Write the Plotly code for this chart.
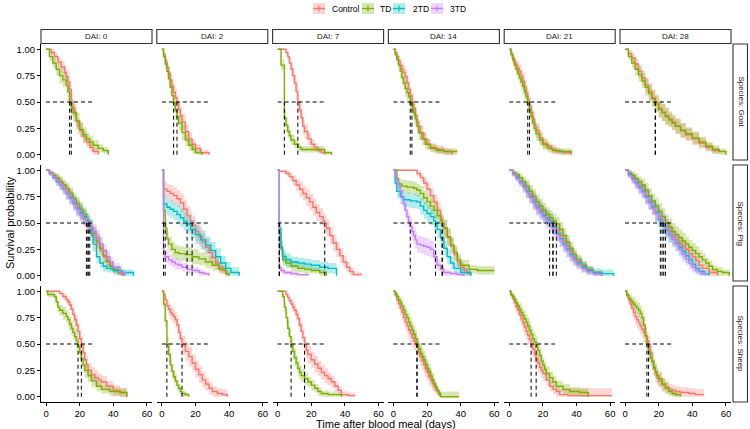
import sys
import plotly.graph_objects as go

# ---------------- categories / ticks ----------------
dai_levels = [0, 2, 7, 14, 21, 28]
species_levels = ["Goat", "Pig", "Sheep"]
group_levels = ["Control", "TD", "2TD", "3TD"]
group_colors = ["#F8766D", "#7CAE00", "#00BFC4", "#C77CFF"]
y_ticks = [0, 0.25, 0.5, 0.75, 1.0]
y_ticklabels = ["0.00", "0.25", "0.50", "0.75", "1.00"]
x_ticks = [0, 20, 40, 60]
x_ticklabels = ["0", "20", "40", "60"]

# ---------------- Kaplan-Meier step data (one list per DAI: 0,2,7,14,21,28) ----------------
# t = event times (days), s = survival after the step, hw = CI half width
goat_control_t = [
    [0, 3, 5, 7, 9, 11, 12, 13, 14, 15, 16, 17, 18, 19, 20, 22, 24, 26, 28, 31],
    [0, 1, 2, 3, 4, 5, 6, 7, 8, 9, 10, 11, 12, 14, 16, 18, 20, 23, 28],
    [0, 5, 6, 7, 8, 9, 10, 11, 12, 13, 14, 15, 16, 18, 20, 22, 24, 26, 28],
    [0, 1, 2, 3, 4, 5, 6, 7, 8, 9, 10, 11, 12, 13, 14, 15, 16, 18, 20, 22, 25, 30, 35],
    [0, 1, 2, 3, 4, 5, 6, 7, 8, 9, 10, 11, 12, 13, 14, 15, 16, 18, 20, 22, 25, 28, 32, 37],
    [0, 2, 4, 6, 8, 10, 12, 14, 16, 18, 20, 22, 24, 26, 28, 30, 33, 36, 40, 44, 48, 52, 56],
]
goat_control_s = [
    [1, .97, .93, .88, .83, .78, .74, .69, .62, .50, .44, .38, .32, .27, .23, .17, .12, .07, .03, 0],
    [1, .95, .89, .83, .77, .71, .65, .59, .54, .49, .43, .37, .31, .22, .15, .10, .06, .02, 0],
    [1, .97, .93, .87, .81, .75, .68, .60, .50, .42, .35, .27, .22, .15, .10, .07, .04, .02, 0],
    [1, .97, .93, .89, .85, .81, .78, .74, .68, .62, .56, .50, .44, .37, .31, .26, .21, .15, .10, .07, .05, .03, 0],
    [1, .96, .92, .88, .85, .82, .79, .75, .70, .64, .58, .52, .46, .40, .34, .28, .23, .16, .11, .08, .05, .03, .02, 0],
    [1, .96, .92, .86, .79, .73, .66, .60, .54, .49, .44, .40, .37, .34, .31, .27, .23, .19, .15, .11, .07, .04, .03],
]
goat_control_hw = [
    [0, .03, .04, .05, .06, .07, .07, .08, .08, .08, .08, .08, .08, .07, .07, .06, .05, .04, .03, 0],
    [0, .03, .04, .05, .06, .07, .07, .08, .08, .08, .08, .08, .08, .07, .06, .05, .04, .03, 0],
    [0, .02, .04, .05, .06, .07, .08, .08, .08, .08, .08, .08, .07, .06, .05, .04, .03, .02, 0],
    [0, .03, .04, .05, .06, .06, .07, .07, .08, .08, .08, .08, .08, .08, .08, .07, .07, .06, .05, .04, .04, .03, 0],
    [0, .03, .04, .05, .06, .06, .07, .07, .08, .08, .08, .08, .08, .08, .08, .07, .07, .06, .05, .04, .04, .03, .02, 0],
    [0, .03, .04, .05, .06, .07, .07, .08, .08, .08, .08, .08, .08, .07, .07, .07, .07, .06, .06, .05, .04, .03, .03],
]

goat_td_t = [
    [0, 2, 4, 6, 8, 10, 12, 13, 14, 15, 16, 18, 20, 22, 24, 26, 28, 31, 34, 37],
    [0, 1, 2, 3, 4, 5, 6, 7, 8, 9, 10, 12, 14, 16, 18, 20, 24],
    [0, 2, 4, 5, 6, 7, 8, 10, 12, 14, 20, 28, 32],
    [0, 1, 2, 3, 4, 5, 6, 7, 8, 9, 10, 11, 12, 13, 14, 15, 17, 19, 22, 26, 30, 38],
    [0, 1, 2, 3, 4, 5, 6, 7, 8, 9, 10, 11, 12, 13, 14, 15, 16, 18, 20, 23, 26, 30, 37],
    [0, 2, 4, 6, 8, 10, 12, 14, 16, 18, 20, 22, 24, 26, 28, 30, 33, 36, 40, 44, 48, 52, 56, 60],
]
goat_td_s = [
    [1, .93, .87, .81, .75, .71, .66, .60, .50, .45, .40, .32, .24, .19, .15, .12, .09, .06, .04, 0],
    [1, .93, .86, .79, .72, .64, .56, .49, .42, .36, .30, .21, .14, .09, .05, .02, 0],
    [1, .85, .35, .28, .22, .18, .14, .10, .07, .05, .05, .02, 0],
    [1, .95, .90, .85, .79, .73, .68, .63, .59, .55, .49, .45, .40, .34, .27, .21, .15, .10, .06, .04, .03, .03],
    [1, .95, .90, .85, .81, .77, .73, .69, .65, .60, .55, .48, .42, .36, .30, .25, .20, .14, .10, .06, .04, .03, .02],
    [1, .93, .87, .81, .76, .70, .64, .58, .53, .48, .43, .40, .36, .33, .30, .27, .23, .20, .16, .12, .08, .05, .03, 0],
]
goat_td_hw = [
    [0, .04, .05, .06, .07, .07, .08, .08, .08, .08, .08, .08, .07, .07, .06, .06, .05, .04, .03, 0],
    [0, .03, .05, .06, .07, .07, .08, .08, .08, .08, .07, .07, .06, .05, .04, .03, 0],
    [0, .05, .07, .07, .06, .06, .05, .04, .04, .03, .03, .02, 0],
    [0, .03, .04, .05, .06, .07, .07, .08, .08, .08, .08, .08, .08, .08, .07, .07, .06, .05, .04, .03, .03, .03],
    [0, .03, .04, .05, .06, .06, .07, .07, .08, .08, .08, .08, .08, .08, .07, .07, .07, .06, .05, .04, .03, .03, .02],
    [0, .04, .05, .06, .07, .07, .08, .08, .08, .08, .08, .08, .08, .07, .07, .07, .07, .06, .06, .05, .04, .04, .03, 0],
]

pig_control_t = [
    [0, 2, 4, 6, 8, 10, 12, 14, 16, 18, 20, 22, 24, 25, 26, 28, 30, 32, 34, 36, 38, 40, 43, 46],
    [0, 1, 3, 5, 7, 9, 11, 13, 15, 17, 18, 20, 22, 24, 26, 28, 30, 32, 34, 36, 38, 40],
    [0, 1, 5, 7, 9, 11, 13, 15, 17, 19, 21, 23, 25, 27, 28, 29, 31, 33, 35, 37, 39, 41, 43, 45, 50],
    [0, 14, 16, 18, 20, 22, 24, 26, 28, 29, 30, 32, 34, 36, 38, 40, 42, 44, 46],
    [0, 2, 4, 6, 8, 10, 12, 14, 16, 18, 20, 22, 24, 26, 28, 30, 32, 34, 36, 38, 40, 43, 46, 50, 55],
    [0, 2, 4, 6, 8, 10, 12, 14, 16, 18, 20, 22, 24, 26, 28, 30, 32, 34, 36, 38, 40, 42, 44, 46, 50, 55],
]
pig_control_s = [
    [1, .98, .95, .92, .88, .84, .80, .75, .70, .65, .60, .55, .51, .48, .44, .38, .31, .24, .18, .13, .09, .05, .02, 0],
    [1, .82, .80, .78, .76, .73, .69, .63, .57, .52, .48, .42, .37, .32, .27, .22, .17, .12, .08, .05, .02, 0],
    [1, .99, .97, .94, .90, .86, .82, .78, .74, .70, .65, .60, .56, .52, .50, .45, .38, .31, .25, .19, .13, .08, .04, .01, .01],
    [1, .97, .93, .88, .82, .76, .70, .62, .54, .49, .45, .36, .28, .20, .13, .08, .05, .02, 0],
    [1, .97, .94, .90, .86, .82, .77, .72, .67, .63, .59, .55, .52, .48, .43, .38, .33, .28, .23, .18, .13, .09, .05, .02, 0],
    [1, .97, .93, .89, .85, .81, .76, .70, .65, .60, .55, .50, .46, .42, .38, .34, .31, .28, .25, .21, .18, .14, .10, .07, .03, 0],
]
pig_control_hw = [
    [0, .02, .03, .04, .05, .05, .06, .06, .06, .07, .07, .07, .07, .07, .07, .07, .07, .06, .06, .05, .04, .03, .02, 0],
    [0, .07, .07, .08, .08, .08, .09, .09, .09, .09, .09, .09, .09, .08, .08, .08, .07, .06, .05, .04, .03, 0],
    [0, .01, .03, .04, .05, .06, .07, .07, .08, .08, .08, .08, .08, .08, .08, .08, .08, .08, .07, .07, .06, .05, .04, .03, .03],
    [0, .03, .04, .05, .06, .07, .07, .08, .08, .08, .08, .08, .08, .07, .06, .05, .04, .03, 0],
    [0, .02, .03, .04, .05, .06, .06, .07, .07, .07, .07, .07, .07, .07, .07, .07, .07, .07, .06, .06, .05, .04, .03, .02, 0],
    [0, .03, .04, .05, .06, .06, .07, .07, .07, .08, .08, .08, .08, .08, .08, .07, .07, .07, .07, .06, .06, .05, .04, .04, .03, 0],
]

pig_td_t = [
    [0, 2, 4, 6, 8, 10, 12, 14, 16, 18, 20, 22, 24, 25, 26, 28, 30, 32, 34, 36, 38, 40, 43, 46],
    [0, 1, 2, 3, 4, 6, 8, 10, 14, 18, 22, 26, 30, 34, 38, 40],
    [0, 1, 2, 3, 5, 8, 12, 16, 20, 25, 29],
    [0, 2, 3, 5, 8, 12, 14, 16, 18, 20, 22, 24, 26, 28, 29, 30, 32, 34, 36, 38, 40, 45, 50, 55, 60],
    [0, 2, 4, 6, 8, 10, 12, 14, 16, 18, 20, 22, 24, 26, 28, 30, 32, 34, 36, 38, 40, 43, 46, 50, 55],
    [0, 2, 4, 6, 8, 10, 12, 14, 16, 18, 20, 22, 24, 26, 28, 30, 32, 34, 36, 38, 40, 42, 44, 46, 48, 50, 52, 55, 58, 62],
]
pig_td_s = [
    [1, .97, .95, .93, .89, .86, .82, .78, .73, .68, .63, .58, .53, .50, .46, .40, .33, .26, .19, .14, .09, .06, .03, 0],
    [1, .62, .45, .35, .30, .25, .22, .21, .20, .18, .16, .13, .10, .06, .02, 0],
    [1, .40, .25, .15, .12, .09, .07, .06, .05, .03, 0],
    [1, .92, .87, .85, .84, .83, .81, .78, .74, .70, .66, .62, .57, .52, .50, .45, .37, .29, .22, .15, .10, .06, .05, .05, .05],
    [1, .98, .96, .93, .89, .85, .80, .75, .70, .66, .62, .58, .55, .52, .49, .44, .38, .32, .26, .20, .15, .10, .06, .03, 0],
    [1, .97, .95, .92, .89, .86, .81, .76, .71, .66, .61, .56, .50, .46, .42, .39, .36, .33, .30, .27, .24, .21, .18, .15, .12, .09, .06, .04, .03, 0],
]
pig_td_hw = [
    [0, .02, .03, .04, .05, .05, .06, .06, .06, .07, .07, .07, .07, .07, .07, .07, .07, .06, .06, .05, .04, .03, .02, 0],
    [0, .08, .08, .08, .07, .07, .07, .07, .07, .07, .06, .06, .05, .04, .03, 0],
    [0, .08, .07, .06, .05, .05, .04, .04, .03, .03, 0],
    [0, .04, .05, .06, .06, .06, .06, .07, .07, .07, .08, .08, .08, .08, .08, .08, .08, .07, .07, .06, .05, .04, .04, .04, .04],
    [0, .02, .03, .04, .05, .06, .06, .07, .07, .07, .07, .07, .07, .07, .07, .07, .07, .07, .06, .06, .05, .04, .03, .02, 0],
    [0, .03, .04, .05, .05, .06, .07, .07, .07, .08, .08, .08, .08, .08, .08, .08, .08, .08, .07, .07, .07, .07, .06, .06, .05, .05, .04, .04, .03, 0],
]

pig_2td_t = [
    [0, 2, 4, 6, 8, 10, 12, 14, 16, 18, 20, 22, 24, 26, 27, 28, 30, 32, 34, 36, 40, 45, 52],
    [0, 1, 3, 5, 7, 9, 11, 13, 15, 17, 20, 23, 26, 29, 32, 35, 38, 41, 46],
    [0, 1, 2, 3, 5, 8, 12, 16, 20, 25, 30, 35],
    [0, 1, 2, 4, 6, 10, 14, 16, 18, 20, 22, 24, 25, 26, 28, 30, 32, 34, 36, 40, 46],
    [0, 2, 4, 6, 8, 10, 12, 14, 16, 18, 20, 22, 24, 26, 28, 30, 32, 34, 36, 38, 40, 43, 46, 50, 55, 62],
    [0, 2, 4, 6, 8, 10, 12, 14, 16, 18, 20, 21, 22, 24, 26, 28, 30, 32, 34, 36, 38, 40, 42, 44, 47, 50],
]
pig_2td_s = [
    [1, .97, .93, .89, .86, .82, .78, .74, .69, .64, .60, .56, .52, .47, .38, .30, .18, .12, .09, .07, .05, .03, 0],
    [1, .68, .65, .63, .61, .58, .55, .52, .49, .44, .39, .34, .29, .24, .18, .12, .07, .03, 0],
    [1, .45, .27, .18, .15, .13, .12, .11, .10, .08, .07, 0],
    [1, .88, .80, .75, .72, .71, .70, .66, .62, .59, .56, .52, .49, .44, .36, .26, .18, .12, .07, .03, 0],
    [1, .96, .93, .89, .85, .80, .75, .70, .65, .61, .57, .54, .51, .46, .40, .35, .30, .25, .20, .16, .12, .08, .05, .03, .02, 0],
    [1, .96, .92, .88, .84, .80, .75, .70, .65, .60, .54, .50, .47, .43, .39, .35, .31, .27, .23, .19, .15, .11, .07, .04, .02, 0],
]
pig_2td_hw = [
    [0, .02, .03, .04, .05, .05, .06, .06, .06, .07, .07, .07, .07, .07, .07, .07, .06, .05, .05, .04, .04, .03, 0],
    [0, .08, .08, .08, .08, .09, .09, .09, .09, .09, .09, .09, .08, .08, .08, .07, .06, .05, 0],
    [0, .08, .07, .06, .06, .05, .05, .05, .05, .05, .05, 0],
    [0, .05, .06, .07, .07, .07, .07, .08, .08, .08, .08, .08, .08, .08, .08, .07, .07, .06, .05, .04, 0],
    [0, .02, .03, .04, .05, .06, .06, .07, .07, .07, .07, .07, .07, .07, .07, .07, .07, .07, .06, .06, .05, .05, .04, .04, .04, 0],
    [0, .03, .04, .05, .06, .06, .07, .07, .07, .08, .08, .08, .08, .08, .08, .08, .07, .07, .07, .07, .06, .06, .05, .04, .03, 0],
]

pig_3td_t = [
    [0, 2, 4, 6, 8, 10, 12, 14, 16, 18, 20, 22, 24, 26, 28, 30, 32, 34, 36, 38, 40, 44, 47],
    [0, 1, 2, 4, 6, 8, 10, 12, 15, 18, 22, 25, 28],
    [0, 1, 2, 4, 8, 12, 18],
    [0, 1, 2, 3, 4, 5, 6, 7, 8, 9, 10, 11, 12, 13, 14, 16, 18, 20, 22, 24, 26, 28, 30, 34, 38, 42],
    [0, 2, 4, 6, 8, 10, 12, 14, 16, 18, 20, 22, 24, 26, 28, 30, 32, 34, 36, 38, 40, 43, 46, 50, 55],
    [0, 2, 4, 6, 8, 10, 12, 14, 16, 18, 20, 22, 23, 24, 26, 28, 30, 32, 34, 36, 38, 40, 42, 45, 48],
]
pig_3td_s = [
    [1, .97, .94, .90, .86, .82, .78, .73, .68, .63, .58, .54, .50, .46, .42, .36, .30, .24, .18, .13, .08, .03, 0],
    [1, .22, .18, .15, .13, .11, .10, .08, .06, .05, .03, .02, 0],
    [1, .08, .05, .03, .02, .01, 0],
    [1, .95, .90, .85, .80, .74, .68, .62, .56, .51, .47, .42, .38, .34, .30, .29, .28, .27, .25, .18, .10, .06, .03, .02, .01, 0],
    [1, .96, .92, .88, .84, .79, .74, .69, .64, .60, .56, .52, .48, .44, .39, .34, .29, .24, .19, .15, .11, .07, .04, .02, 0],
    [1, .95, .91, .87, .83, .79, .74, .69, .64, .59, .55, .52, .49, .45, .40, .35, .30, .25, .20, .16, .12, .08, .05, .02, 0],
]
pig_3td_hw = [
    [0, .02, .03, .04, .05, .05, .06, .06, .07, .07, .07, .07, .07, .07, .07, .07, .07, .06, .06, .05, .04, .03, 0],
    [0, .06, .06, .05, .05, .05, .04, .04, .04, .03, .03, .02, 0],
    [0, .04, .03, .02, .02, .01, 0],
    [0, .03, .04, .05, .06, .07, .07, .08, .08, .08, .08, .08, .08, .08, .08, .08, .08, .08, .08, .07, .05, .04, .03, .02, .02, 0],
    [0, .02, .03, .04, .05, .06, .06, .07, .07, .07, .07, .07, .07, .07, .07, .07, .07, .07, .06, .06, .05, .04, .03, .02, 0],
    [0, .03, .04, .05, .06, .06, .07, .07, .07, .08, .08, .08, .08, .08, .08, .07, .07, .07, .07, .06, .06, .05, .04, .03, 0],
]

sheep_control_t = [
    [0, 8, 10, 12, 13, 14, 15, 16, 17, 18, 19, 20, 21, 22, 23, 24, 25, 27, 29, 31, 33, 36, 40, 44, 48],
    [0, 1, 2, 3, 4, 5, 6, 7, 8, 9, 10, 11, 12, 14, 16, 18, 20, 22, 24, 26, 28, 30, 33, 36, 39],
    [0, 5, 6, 7, 8, 9, 10, 11, 12, 13, 14, 15, 16, 17, 18, 20, 22, 24, 26, 28, 30, 32, 34, 36, 38, 42, 46],
    [0, 1, 2, 3, 4, 5, 6, 7, 8, 9, 10, 11, 12, 13, 14, 15, 16, 17, 18, 19, 20, 21, 22, 23, 24, 25, 26, 27, 28],
    [0, 1, 2, 3, 4, 5, 6, 7, 8, 9, 10, 11, 12, 13, 14, 15, 16, 17, 18, 19, 20, 22, 24, 26, 28, 30, 35, 61],
    [0, 1, 2, 3, 4, 5, 6, 7, 8, 9, 10, 11, 12, 13, 14, 15, 16, 17, 18, 19, 20, 22, 24, 26, 28, 30, 33, 38, 42, 47],
]
sheep_control_s = [
    [1, .98, .95, .92, .90, .87, .83, .78, .73, .68, .62, .55, .49, .42, .35, .30, .25, .21, .18, .16, .14, .10, .06, .04, 0],
    [1, .97, .92, .86, .83, .80, .78, .76, .73, .68, .61, .55, .49, .43, .38, .32, .26, .21, .16, .12, .08, .05, .03, .02, 0],
    [1, .97, .94, .91, .88, .85, .82, .78, .74, .68, .62, .56, .49, .44, .40, .35, .31, .27, .23, .20, .17, .14, .10, .06, .02, .01, .01],
    [1, .96, .92, .88, .84, .80, .75, .71, .67, .63, .60, .56, .53, .51, .47, .42, .38, .34, .30, .26, .23, .19, .16, .13, .10, .07, .05, .02, 0],
    [1, .96, .93, .89, .85, .82, .78, .74, .70, .66, .62, .58, .54, .49, .45, .40, .36, .32, .28, .25, .22, .16, .10, .07, .05, .02, .01, .01],
    [1, .96, .92, .88, .84, .80, .76, .73, .70, .67, .64, .61, .57, .53, .49, .42, .34, .27, .22, .18, .15, .11, .09, .07, .06, .05, .04, .03, .02, .02],
]
sheep_control_hw = [
    [0, .02, .03, .04, .04, .05, .06, .07, .07, .08, .08, .08, .08, .08, .08, .08, .07, .07, .07, .06, .06, .05, .05, .04, 0],
    [0, .03, .04, .05, .06, .07, .07, .07, .08, .08, .08, .09, .09, .09, .09, .08, .08, .08, .07, .06, .06, .05, .05, .05, 0],
    [0, .02, .03, .04, .05, .05, .06, .06, .07, .07, .08, .08, .08, .08, .08, .08, .08, .07, .07, .07, .06, .06, .05, .04, .03, .03, .03],
    [0, .03, .04, .05, .06, .07, .07, .08, .08, .08, .09, .09, .09, .09, .09, .09, .09, .09, .09, .08, .08, .08, .07, .07, .06, .05, .04, .03, 0],
    [0, .03, .04, .05, .06, .06, .07, .07, .08, .08, .08, .08, .08, .08, .08, .08, .08, .08, .07, .07, .07, .06, .05, .05, .05, .05, .07, .07],
    [0, .03, .05, .06, .07, .07, .08, .08, .08, .08, .08, .09, .09, .09, .09, .09, .09, .08, .08, .07, .07, .06, .06, .05, .05, .05, .05, .05, .05, .05],
]

sheep_td_t = [
    [0, 1, 5, 6, 7, 8, 10, 12, 13, 14, 15, 16, 17, 18, 19, 20, 21, 22, 23, 25, 27, 30, 33, 38, 44, 48],
    [0, 1, 2, 3, 4, 5, 6, 7, 8, 9, 10, 11, 12, 14, 16],
    [0, 3, 4, 5, 6, 7, 8, 9, 10, 11, 12, 13, 14, 16, 18, 20, 22, 24, 26, 30, 35, 38],
    [0, 1, 2, 3, 4, 5, 6, 7, 8, 9, 10, 11, 12, 13, 14, 15, 16, 17, 18, 19, 20, 21, 22, 23, 24, 25, 26, 27, 28, 39],
    [0, 1, 2, 3, 4, 5, 6, 7, 8, 9, 10, 11, 12, 13, 14, 15, 16, 17, 18, 19, 20, 21, 22, 24, 26, 28, 32, 36, 42, 47],
    [0, 1, 2, 3, 4, 5, 6, 7, 8, 9, 10, 11, 12, 13, 14, 15, 16, 17, 18, 19, 20, 22, 24, 26, 28, 30, 33],
]
sheep_td_s = [
    [1, .97, .95, .90, .85, .82, .79, .76, .73, .69, .65, .61, .57, .53, .48, .42, .36, .30, .25, .20, .15, .10, .07, .05, .04, 0],
    [1, .88, .72, .50, .40, .30, .24, .19, .15, .11, .08, .05, .03, .02, 0],
    [1, .95, .85, .75, .65, .57, .49, .43, .37, .32, .27, .23, .20, .17, .14, .11, .08, .05, .03, .02, .02, 0],
    [1, .98, .95, .92, .89, .86, .82, .78, .75, .71, .67, .63, .59, .55, .49, .45, .41, .38, .35, .31, .27, .24, .20, .16, .12, .09, .06, .03, 0, 0],
    [1, .97, .95, .92, .89, .86, .83, .80, .77, .74, .71, .67, .63, .59, .55, .52, .49, .44, .39, .34, .30, .26, .22, .18, .14, .10, .07, .05, .04, 0],
    [1, .97, .94, .92, .90, .88, .86, .84, .82, .79, .75, .68, .58, .49, .42, .37, .33, .28, .24, .20, .17, .12, .08, .05, .03, .02, 0],
]
sheep_td_hw = [
    [0, .03, .03, .04, .05, .05, .06, .06, .07, .07, .07, .07, .08, .08, .08, .08, .08, .07, .07, .06, .06, .05, .04, .04, .04, 0],
    [0, .05, .07, .08, .08, .07, .07, .06, .06, .05, .04, .04, .03, .02, 0],
    [0, .03, .05, .06, .07, .07, .08, .08, .08, .07, .07, .07, .06, .06, .05, .05, .04, .04, .03, .03, .03, 0],
    [0, .02, .03, .04, .05, .06, .06, .07, .07, .08, .08, .08, .08, .08, .08, .08, .08, .08, .08, .08, .08, .07, .07, .07, .06, .05, .04, .04, .05, .05],
    [0, .02, .03, .04, .05, .05, .06, .06, .07, .07, .07, .08, .08, .08, .08, .08, .08, .08, .08, .08, .07, .07, .07, .06, .06, .05, .05, .04, .04, 0],
    [0, .03, .04, .05, .05, .06, .06, .06, .07, .07, .07, .08, .08, .08, .08, .08, .08, .08, .07, .07, .07, .06, .05, .04, .04, .03, 0],
]

# ---------------- assemble ----------------
panel_data = {
    "Goat": [("Control", goat_control_t, goat_control_s, goat_control_hw),
             ("TD", goat_td_t, goat_td_s, goat_td_hw)],
    "Pig": [("Control", pig_control_t, pig_control_s, pig_control_hw),
            ("TD", pig_td_t, pig_td_s, pig_td_hw),
            ("2TD", pig_2td_t, pig_2td_s, pig_2td_hw),
            ("3TD", pig_3td_t, pig_3td_s, pig_3td_hw)],
    "Sheep": [("Control", sheep_control_t, sheep_control_s, sheep_control_hw),
              ("TD", sheep_td_t, sheep_td_s, sheep_td_hw)],
}


def rgba(hex_color, a):
    h = hex_color.lstrip("#")
    return "rgba(%d,%d,%d,%s)" % (int(h[0:2], 16), int(h[2:4], 16), int(h[4:6], 16), a)


def median_of(t, s):
    for ti, si in zip(t, s):
        if si <= 0.5:
            return ti
    return None


color_of = dict(zip(group_levels, group_colors))

# global max median (for horizontal median segment)
all_medians = []
for sp in species_levels:
    for g, T, S, H in panel_data[sp]:
        for j in range(len(dai_levels)):
            m = median_of(T[j], S[j])
            if m is not None:
                all_medians.append(m)
h_end = max(all_medians)

W, Hh = 750.0, 429.0
col_left = [41 + c * 115.8 for c in range(6)]
col_w = 111.0
row_top = [44.0, 165.0, 286.0]
row_h = 116.0

fig = go.Figure()
layout = dict(
    width=750, height=429, margin=dict(l=0, r=0, t=0, b=0),
    paper_bgcolor="white", plot_bgcolor="white", showlegend=False,
    font=dict(family="Liberation Sans, Arial, sans-serif", color="black"),
)
shapes = []
annotations = []

for r, sp in enumerate(species_levels):
    for c, dai in enumerate(dai_levels):
        k = r * 6 + c + 1
        xa = "x" if k == 1 else "x%d" % k
        ya = "y" if k == 1 else "y%d" % k
        xkey = "xaxis" if k == 1 else "xaxis%d" % k
        ykey = "yaxis" if k == 1 else "yaxis%d" % k
        x0 = col_left[c] / W
        x1 = (col_left[c] + col_w) / W
        y1 = 1 - row_top[r] / Hh
        y0 = 1 - (row_top[r] + row_h) / Hh
        bottom = (r == 2)
        left = (c == 0)
        layout[xkey] = dict(
            domain=[x0, x1], anchor=ya, range=[-3, 63], showgrid=False, zeroline=False,
            showline=bottom, linecolor="black", linewidth=1,
            ticks="outside" if bottom else "", ticklen=2.5, tickwidth=1, tickcolor="black",
            tickvals=x_ticks, ticktext=x_ticklabels, showticklabels=bottom,
            tickfont=dict(size=9.5, color="black"),
        )
        layout[ykey] = dict(
            domain=[y0, y1], anchor=xa, range=[-0.05, 1.05], showgrid=False, zeroline=False,
            showline=left, linecolor="black", linewidth=1,
            ticks="outside" if left else "", ticklen=3, tickwidth=1, tickcolor="black",
            tickvals=y_ticks, ticktext=y_ticklabels, showticklabels=left,
            tickfont=dict(size=9.5, color="black"),
        )

        groups = panel_data[sp]
        # confidence bands
        for g, T, S, Hw in groups:
            t, s, hw = T[c], S[c], Hw[c]
            if not (len(t) == len(s) == len(hw)):
                print("length mismatch", sp, g, dai, len(t), len(s), len(hw), file=sys.stderr)
            up = [min(1.0, a + b) for a, b in zip(s, hw)]
            lo = [max(0.0, a - b) for a, b in zip(s, hw)]
            n = min(len(t), len(up))
            fig.add_trace(go.Scatter(x=t[:n], y=up[:n], mode="lines", line=dict(width=0, shape="hv"),
                                     xaxis=xa, yaxis=ya, hoverinfo="skip"))
            fig.add_trace(go.Scatter(x=t[:n], y=lo[:n], mode="lines", line=dict(width=0, shape="hv"),
                                     fill="tonexty", fillcolor=rgba(color_of[g], 0.3),
                                     xaxis=xa, yaxis=ya, hoverinfo="skip"))
        # survival curves
        for g, T, S, Hw in groups:
            t, s = T[c], S[c]
            n = min(len(t), len(s))
            fig.add_trace(go.Scatter(x=t[:n], y=s[:n], mode="lines",
                                     line=dict(color=color_of[g], width=1.4, shape="hv"),
                                     xaxis=xa, yaxis=ya, name=g))
        # median lines
        for g, T, S, Hw in groups:
            m = median_of(T[c], S[c])
            if m is not None:
                fig.add_trace(go.Scatter(x=[m, m], y=[0, 0.5], mode="lines",
                                         line=dict(color="black", width=1, dash="4px,3px"),
                                         xaxis=xa, yaxis=ya, hoverinfo="skip"))
        fig.add_trace(go.Scatter(x=[0, h_end], y=[0.5, 0.5], mode="lines",
                                 line=dict(color="black", width=1, dash="4px,3px"),
                                 xaxis=xa, yaxis=ya, hoverinfo="skip"))

# ---------------- strips ----------------
strip_line = dict(color="#333333", width=1.1)
for c, dai in enumerate(dai_levels):
    xa0 = col_left[c] / W
    xa1 = (col_left[c] + col_w) / W
    shapes.append(dict(type="rect", xref="paper", yref="paper", x0=xa0, x1=xa1,
                       y0=1 - 43.5 / Hh, y1=1 - 29.5 / Hh, fillcolor="white", line=strip_line))
    annotations.append(dict(text="DAI: %d" % dai, xref="paper", yref="paper",
                            x=(xa0 + xa1) / 2, y=1 - 36.5 / Hh, showarrow=False,
                            font=dict(size=8, color="#1a1a1a"), xanchor="center", yanchor="middle"))
for r, sp in enumerate(species_levels):
    y1 = 1 - row_top[r] / Hh
    y0 = 1 - (row_top[r] + row_h) / Hh
    shapes.append(dict(type="rect", xref="paper", yref="paper", x0=733 / W, x1=747.5 / W,
                       y0=y0, y1=y1, fillcolor="white", line=strip_line))
    annotations.append(dict(text="Species: %s" % sp, xref="paper", yref="paper",
                            x=740.5 / W, y=(y0 + y1) / 2, showarrow=False, textangle=90,
                            font=dict(size=8, color="#1a1a1a"), xanchor="center", yanchor="middle"))

# ---------------- axis titles ----------------
annotations.append(dict(text="Survival probability", xref="paper", yref="paper",
                        x=10 / W, y=1 - 223 / Hh, showarrow=False, textangle=-90,
                        font=dict(size=11, color="black"), xanchor="center", yanchor="middle"))
annotations.append(dict(text="Time after blood meal (days)", xref="paper", yref="paper",
                        x=386 / W, y=1 - 423.5 / Hh, showarrow=False, borderpad=0,
                        font=dict(size=11, color="black"), xanchor="center", yanchor="middle"))

# ---------------- legend (manual) ----------------
legend_icon_cx = [319, 368, 399, 437]
legend_text_x = [330, 378, 411, 448]
ly = 8.5
for g, col, cx, tx in zip(group_levels, group_colors, legend_icon_cx, legend_text_x):
    shapes.append(dict(type="rect", xref="paper", yref="paper",
                       x0=(cx - 6) / W, x1=(cx + 6) / W, y0=1 - (ly + 5.5) / Hh, y1=1 - (ly - 5.5) / Hh,
                       fillcolor=rgba(col, 0.3), line=dict(width=0)))
    shapes.append(dict(type="line", xref="paper", yref="paper",
                       x0=(cx - 6) / W, x1=(cx + 6) / W, y0=1 - ly / Hh, y1=1 - ly / Hh,
                       line=dict(color=col, width=1.4)))
    shapes.append(dict(type="line", xref="paper", yref="paper",
                       x0=cx / W, x1=cx / W, y0=1 - (ly + 3) / Hh, y1=1 - (ly - 3) / Hh,
                       line=dict(color=col, width=1.2)))
    annotations.append(dict(text=g, xref="paper", yref="paper", x=tx / W, y=1 - ly / Hh,
                            showarrow=False, xanchor="left", yanchor="middle",
                            font=dict(size=8.5, color="black")))

layout["shapes"] = shapes
layout["annotations"] = annotations
fig.update_layout(**layout)
fig.write_html("out.html",
               config={"displayModeBar": False},
               post_script="document.body.style.margin='0px';document.body.style.padding='0px';"
                           "document.body.style.overflow='hidden';")
